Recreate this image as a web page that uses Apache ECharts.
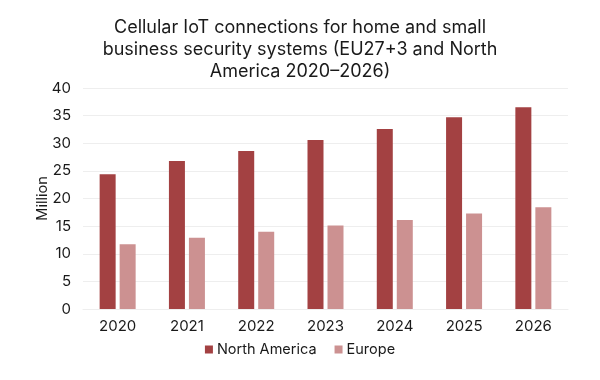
<!DOCTYPE html>
<html><head><meta charset="utf-8">
<script src="https://cdn.jsdelivr.net/npm/echarts@6/dist/echarts.min.js"></script>
<style>html,body{margin:0;padding:0;background:#fff}#c{width:600px;height:380px}</style>
</head><body><div id="c"></div>
<script>
const categories = ['2020','2021','2022','2023','2024','2025','2026'];
const northAmerica = [24.4, 26.8, 28.6, 30.6, 32.6, 34.7, 36.5];
const europe = [11.7, 12.9, 14.0, 15.1, 16.1, 17.3, 18.4];
const seriesNames = ['North America', 'Europe'];
const titleText = 'Cellular IoT connections for home and small\nbusiness security systems (EU27+3 and North\nAmerica 2020\u20132026)';
const yAxisName = 'Million';

const chart = echarts.init(document.getElementById('c'), null, {renderer:'canvas'});
const font = 'Inter, "Noto Sans", sans-serif';
chart.setOption({
  animation: false,
  textStyle: {fontFamily: font},
  title: {text: titleText, left: 'center', top: 12,
    textStyle: {fontFamily: font, fontSize: 18, fontWeight: 'normal', color: '#1a1a1a', lineHeight: 22}},
  legend: {bottom: 18, left: 'center', itemWidth: 8, itemHeight: 8, itemGap: 18, icon: 'rect',
    textStyle: {fontSize: 14.5, color: '#1a1a1a', padding: [0,0,0,-1]}, data: seriesNames},
  grid: {left: 83, right: 32, top: 88, bottom: 71},
  xAxis: {type: 'category', data: categories,
    axisLine: {show: true, lineStyle: {color: '#eeeeee'}}, axisTick: {show: false},
    axisLabel: {fontSize: 15, color: '#1a1a1a', margin: 10}},
  yAxis: {type: 'value', min: 0, max: 40, interval: 5,
    name: yAxisName, nameLocation: 'middle', nameGap: 33, nameMoveOverlap: false,
    nameTextStyle: {fontSize: 14.5, color: '#1a1a1a'},
    axisLine: {show: false}, axisTick: {show: false},
    axisLabel: {fontSize: 15, color: '#1a1a1a', margin: 12},
    splitLine: {lineStyle: {color: '#eeeeee'}}},
  series: [
    {name: seriesNames[0], type: 'bar', data: northAmerica, barWidth: 16, barGap: '25%',
      itemStyle: {color: '#a34142'}},
    {name: seriesNames[1], type: 'bar', data: europe, barWidth: 16,
      itemStyle: {color: '#cc9191'}}
  ]
});
</script></body></html>
